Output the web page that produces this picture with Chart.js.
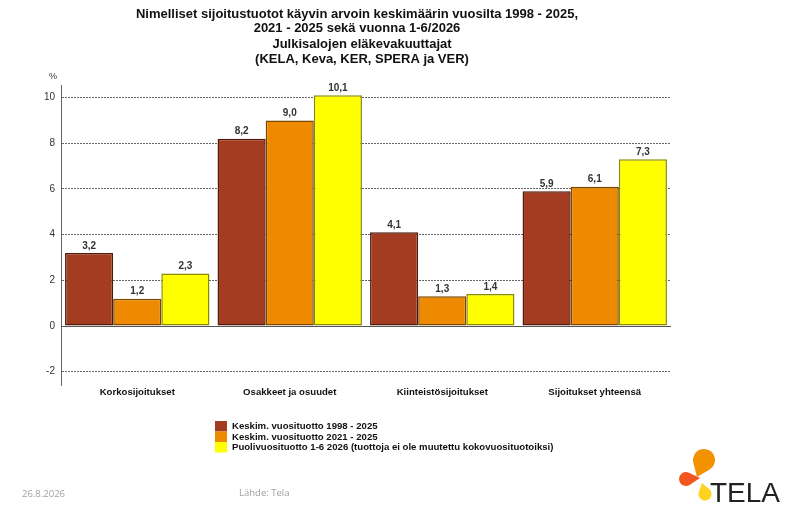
<!DOCTYPE html>
<html>
<head>
<meta charset="utf-8">
<script src="https://cdn.jsdelivr.net/npm/chart.js@4.4.1/dist/chart.umd.min.js"></script>
<style>
  html, body { margin: 0; padding: 0; background: #fff; }
  #wrap { width: 790px; height: 511px; }
</style>
</head>
<body>
<div id="wrap"><canvas id="chart" width="790" height="511"></canvas></div>
<script>
// Categories and series
const categories = ['Korkosijoitukset', 'Osakkeet ja osuudet', 'Kiinteistösijoitukset', 'Sijoitukset yhteensä'];
const avg1998 = [3.2, 8.2, 4.1, 5.9];
const avg2021 = [1.2, 9.0, 1.3, 6.1];
const half2026 = [2.3, 10.1, 1.4, 7.3];
const seriesLabels = [
    'Keskim. vuosituotto 1998 - 2025',
    'Keskim. vuosituotto 2021 - 2025',
    'Puolivuosituotto 1-6 2026 (tuottoja ei ole muutettu kokovuosituotoiksi)'
];
const yTicks = [-2, 0, 2, 4, 6, 8, 10];
const titleLines = [
    'Nimelliset sijoitustuotot käyvin arvoin keskimäärin vuosilta 1998 - 2025,',
    '2021 - 2025 sekä vuonna 1-6/2026',
    'Julkisalojen eläkevakuuttajat',
    '(KELA, Keva, KER, SPERA ja VER)'
];

const FILL = ['#A33C21', '#EE8A00', '#FFFF00'];
const EDGE = ['#4f1a0c', '#7a4600', '#8a8a00'];
const FONT = '"Liberation Sans", Arial, sans-serif';

const fmt = v => v.toFixed(1).replace('.', ',');

// Values above bars, zero line, titles, legend, footer, logo
const decorPlugin = {
    id: 'decor',
    beforeDatasetsDraw(chart) {
        const { ctx, chartArea, scales } = chart;
        const y0 = scales.y.getPixelForValue(0);
        ctx.save();
        ctx.strokeStyle = '#555';
        ctx.lineWidth = 1;
        ctx.beginPath();
        ctx.moveTo(chartArea.left, Math.round(y0) + 0.5);
        ctx.lineTo(chartArea.right, Math.round(y0) + 0.5);
        ctx.stroke();
        ctx.restore();
    },
    afterDatasetsDraw(chart) {
        const { ctx } = chart;
        ctx.save();
        ctx.font = 'bold 10px ' + FONT;
        ctx.fillStyle = '#333';
        ctx.textAlign = 'center';
        ctx.textBaseline = 'bottom';
        chart.data.datasets.forEach((ds, i) => {
            chart.getDatasetMeta(i).data.forEach((bar, j) => {
                ctx.fillText(fmt(ds.data[j]), bar.x, bar.y - 2);
            });
        });
        ctx.restore();
    },
    afterDraw(chart) {
        const { ctx } = chart;
        ctx.save();
        // titles
        ctx.fillStyle = '#111';
        ctx.textAlign = 'center';
        ctx.textBaseline = 'middle';
        ctx.font = 'bold 13px ' + FONT;
        const ty = [14, 28, 44, 59];
        const tx = [357, 357, 362, 362];
        titleLines.forEach((t, i) => ctx.fillText(t, tx[i], ty[i]));

        // % unit
        ctx.font = '9px ' + FONT;
        ctx.fillStyle = '#333';
        ctx.fillText('%', 53, 77);

        // legend
        ctx.textAlign = 'left';
        ctx.font = 'bold 9.6px ' + FONT;
        seriesLabels.forEach((lab, i) => {
            const top = 421 + i * 10.5;
            ctx.fillStyle = FILL[i];
            ctx.fillRect(215, top, 12, 10.5);
            ctx.fillStyle = '#111';
            ctx.fillText(lab, 232, top + 5.5);
        });

        // footer
        ctx.font = '9.5px "Open Sans", sans-serif';
        ctx.fillStyle = '#a0a0a0';
        ctx.fillText('26.8.2026', 22, 494);
        ctx.fillText('Lähde: Tela', 239, 493);

        // logo
        drawDrop(ctx, 704, 460, 11, 697, 477, '#F39200');
        drawDrop(ctx, 686, 479, 7, 700, 478, '#F0561E');
        drawDrop(ctx, 705, 494, 6.5, 702, 483, '#FFD21F');
        ctx.fillStyle = '#222';
        ctx.font = '28px ' + FONT;
        ctx.textBaseline = 'alphabetic';
        ctx.fillText('TELA', 710, 502);
        ctx.restore();
    }
};

function drawDrop(ctx, cx, cy, r, tx, ty, color) {
    const a = Math.atan2(ty - cy, tx - cx);
    const d = Math.hypot(tx - cx, ty - cy);
    const phi = Math.acos(Math.min(r / d, 1));
    ctx.beginPath();
    ctx.moveTo(tx, ty);
    ctx.arc(cx, cy, r, a + phi, a - phi + Math.PI * 2);
    ctx.closePath();
    ctx.fillStyle = color;
    ctx.fill();
}

const datasets = [avg1998, avg2021, half2026].map((vals, i) => ({
    label: seriesLabels[i],
    data: vals,
    backgroundColor: FILL[i],
    borderColor: EDGE[i],
    borderWidth: 1.5,
    borderSkipped: false,
    categoryPercentage: 0.947,
    barPercentage: 1
}));

new Chart(document.getElementById('chart'), {
    type: 'bar',
    data: { labels: categories, datasets: datasets },
    options: {
        responsive: false,
        animation: false,
        devicePixelRatio: 1,
        layout: { padding: { top: 85, right: 119, left: 0, bottom: 0 } },
        plugins: {
            legend: { display: false },
            tooltip: { enabled: false },
            title: { display: false }
        },
        scales: {
            x: {
                grid: { display: false, drawTicks: false },
                border: { display: false },
                ticks: {
                    color: '#111',
                    font: { family: FONT, size: 9.6, weight: 'bold' },
                    padding: 2,
                    maxRotation: 0,
                    autoSkip: false
                },
                afterFit(scale) { scale.height = 126; }
            },
            y: {
                min: -2.58,
                max: 10.55,
                afterBuildTicks(scale) { scale.ticks = yTicks.map(v => ({ value: v })); },
                afterFit(scale) { scale.width = 61; },
                grid: {
                    drawTicks: false,
                    color: ctx => ctx.tick && ctx.tick.value === 0 ? 'rgba(0,0,0,0)' : '#666',
                    lineWidth: 1
                },
                border: { display: true, color: '#666', width: 1, dash: [2, 1] },
                ticks: {
                    color: '#333',
                    font: { family: FONT, size: 10 },
                    padding: 6
                }
            }
        }
    },
    plugins: [decorPlugin]
});
</script>
</body>
</html>
